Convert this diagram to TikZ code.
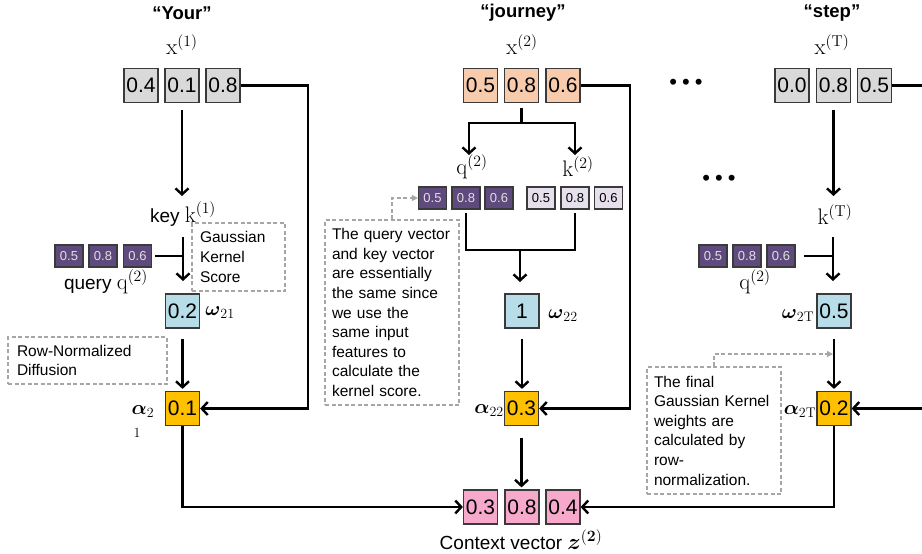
\RequirePackage{fix-cm}
\documentclass[tikz,border=0pt]{standalone}
\usepackage{amsmath}
\usepackage[no-math]{fontspec}
\setmainfont{Liberation Sans}
\usetikzlibrary{arrows.meta}
\definecolor{boxline}{HTML}{3A3A3A}
\definecolor{greyfill}{HTML}{D9D9D9}
\definecolor{orangefill}{HTML}{F8CBAD}
\definecolor{purplefill}{HTML}{5F4A7E}
\definecolor{lavfill}{HTML}{E6E0EC}
\definecolor{bluefill}{HTML}{B7DEE8}
\definecolor{goldfill}{HTML}{FFC000}
\definecolor{pinkfill}{HTML}{F6A9CB}
\definecolor{dashgrey}{HTML}{A6A6A6}
\newcommand{\bigmath}[1]{{\fontsize{22.5}{22.5}\selectfont$#1$}}
\tikzset{
  cell/.style={draw=boxline, line width=1.2pt, minimum width=34pt, minimum height=34pt, inner sep=0pt, font=\fontsize{21}{21}\selectfont},
  smallcell/.style={draw=boxline, line width=1.2pt, minimum width=28pt, minimum height=22pt, inner sep=0pt, font=\fontsize{13}{13}\selectfont},
  greycell/.style={cell, fill=greyfill},
  orangecell/.style={cell, fill=orangefill},
  bluecell/.style={cell, fill=bluefill},
  goldcell/.style={cell, fill=goldfill},
  pinkcell/.style={cell, fill=pinkfill},
  qcell/.style={smallcell, fill=purplefill, text=white!88!black},
  kcell/.style={smallcell, fill=lavfill},
  titletext/.style={font=\fontsize{18.5}{18.5}\selectfont\bfseries, inner sep=0pt},
  lab/.style={font=\fontsize{20}{20}\selectfont, inner sep=0pt},
  dotstext/.style={font=\fontsize{22}{22}\selectfont, inner sep=0pt},
  note/.style={draw=dashgrey, dash pattern=on 4pt off 2.5pt, line width=1.3pt, align=left, font=\fontsize{15.5}{19.6}\selectfont, inner ysep=0pt},
  conn/.style={line width=2.4pt, draw=black},
  tip/.style={-{Straight Barb[length=6pt,width=13pt]}},
  gconn/.style={draw=dashgrey, line width=1.3pt, dash pattern=on 4pt off 2.5pt, -{Triangle[length=6pt,width=6pt]}},
}
\begin{document}
\begin{tikzpicture}[x=1pt,y=-1pt]
\useasboundingbox (0,0) rectangle (922,554);
% titles and input labels
\node[titletext] (t1) at (182,13) {“Your”};
\node[titletext] (t2) at (523,13) {“journey”};
\node[titletext] (t3) at (832,13) {“step”};
\node[lab] (x1) at (182,45) {\bigmath{\mathrm{x}^{(1)}}};
\node[lab] (x2) at (522,45) {\bigmath{\mathrm{x}^{(2)}}};
\node[lab] (x3) at (832,45) {\bigmath{\mathrm{x}^{(\mathrm{T})}}};
% input vectors
\node[greycell] (a1) at (141,85.5) {0.4};
\node[greycell] (a2) at (182,85.5) {0.1};
\node[greycell] (a3) at (223,85.5) {0.8};
\node[orangecell] (b1) at (480.5,85.5) {0.5};
\node[orangecell] (b2) at (521.5,85.5) {0.8};
\node[orangecell] (b3) at (563,85.5) {0.6};
\node[greycell] (c1) at (792,85.5) {0.0};
\node[greycell] (c2) at (833.5,85.5) {0.8};
\node[greycell] (c3) at (874.5,85.5) {0.5};
% dots
\node[dotstext] (d1) at (686,84) {•\hspace{5pt}•\hspace{5pt}•};
\node[dotstext] (d2) at (719,180) {•\hspace{5pt}•\hspace{5pt}•};

% ---------- left column ----------
\node[lab, font=\fontsize{19}{19}\selectfont] (k1) at (183,214) {key \bigmath{\mathrm{k}^{(1)}}};
\coordinate (k1in) at (182,196);
\draw[conn,tip,shorten <=7pt] (a2.south) -- (k1in);
\node[qcell] (q1a) at (69,256) {0.5};
\node[qcell] (q1b) at (103,256) {0.8};
\node[qcell] (q1c) at (137.5,256) {0.6};
\node[lab, font=\fontsize{19}{19}\selectfont] (q1l) at (106,282) {query \bigmath{\mathrm{q}^{(2)}}};
\coordinate (v1a) at (183,237);
\coordinate (v1b) at (183,281);
\draw[conn,tip] (v1a) -- (v1b);
\draw[conn] ([xshift=3pt]q1c.east) -- (q1c.east -| v1a);
\node[note, text width=77pt, inner xsep=8pt, minimum height=68pt] (n1) at (238.5,257) {Gaussian\\Kernel\\Score};
\node[bluecell] (w1) at (182.5,311) {0.2};
\node[lab] (o1) at (220,313) {$\boldsymbol{\omega}_{21}$};
\node[note, text width=141pt, inner xsep=9pt, minimum height=47pt] (n0) at (87.5,360.5) {Row-Normalized\\Diffusion};
\node[goldcell] (al1) at (182.5,408.5) {0.1};
\node[lab] (g1) at (143,412) {$\boldsymbol{\alpha}_{2}$};
\node[lab, font=\fontsize{14}{14}\selectfont] (g1b) at (137,433) {$1$};
\draw[conn,tip,shorten <=10pt,shorten >=2pt] (w1.south) -- (w1.south |- al1.north);
\coordinate (r1) at (308,250);
\draw[conn,tip] (a3.east) -| (r1) |- (al1.east);

% ---------- middle column ----------
\coordinate (m1) at (521.5,123);
\coordinate (qa) at (469,155);
\coordinate (ka) at (575,155);
\draw[conn,shorten <=5pt] (b2.south) -- (m1);
\draw[conn,tip] (m1) -| (qa);
\draw[conn,tip] (m1) -| (ka);
\node[lab] (q2l) at (472,167) {\bigmath{\mathrm{q}^{(2)}}};
\node[lab] (k2l) at (578,167) {\bigmath{\mathrm{k}^{(2)}}};
\node[qcell] (q2a) at (432.5,198) {0.5};
\node[qcell] (q2b) at (466,198) {0.8};
\node[qcell] (q2c) at (499,198) {0.6};
\node[kcell] (k2a) at (541,198) {0.5};
\node[kcell] (k2b) at (575,198) {0.8};
\node[kcell] (k2c) at (608.5,198) {0.6};
\coordinate (m2) at (520,250);
\coordinate (m2b) at (520,282);
\draw[conn] ([yshift=-3pt]q2b.south) -- (q2b.south |- m2) -- (k2b.south |- m2) -- ([yshift=-3pt]k2b.south);
\draw[conn,tip] (m2) -- (m2b);
\node[bluecell] (w2) at (522,311) {1};
\node[lab] (o2) at (563,316) {$\boldsymbol{\omega}_{22}$};
\node[goldcell] (al2) at (521.5,408.5) {0.3};
\node[lab] (g2) at (489,411) {$\boldsymbol{\alpha}_{22}$};
\draw[conn,tip,shorten <=10pt,shorten >=2pt] (w2.south) -- (w2.south |- al2.north);
\coordinate (r2) at (630,250);
\draw[conn,tip] (b3.east) -| (r2) |- (al2.east);
\node[note, text width=120pt, inner xsep=7pt, minimum height=185pt] (n2) at (392,312.5) {The query vector\\and key vector\\are essentially\\the same since\\we use the\\same input\\features to\\calculate the\\kernel score.};
\draw[gconn] (n2.north) |- (q2a.west);

% ---------- right column ----------
\node[lab] (kT) at (835,215) {\bigmath{\mathrm{k}^{(\mathrm{T})}}};
\coordinate (kTin) at (833.5,196);
\draw[conn,tip,shorten <=7pt] (c2.south) -- (kTin);
\node[qcell] (qTa) at (713,256) {0.5};
\node[qcell] (qTb) at (747,256) {0.8};
\node[qcell] (qTc) at (781,256) {0.6};
\node[lab] (qTl) at (755,282) {\bigmath{\mathrm{q}^{(2)}}};
\coordinate (vTa) at (833,237);
\coordinate (vTb) at (833,281);
\draw[conn,tip] (vTa) -- (vTb);
\draw[conn] ([xshift=8pt]qTc.east) -- (qTc.east -| vTa);
\node[bluecell] (wT) at (834,311) {0.5};
\node[lab] (oT) at (798,316) {$\boldsymbol{\omega}_{2\mathrm{T}}$};
\node[goldcell] (alT) at (834,408.5) {0.2};
\node[lab] (gT) at (800,412) {$\boldsymbol{\alpha}_{2\mathrm{T}}$};
\draw[conn,tip,shorten <=10pt,shorten >=2pt] (wT.south) -- (wT.south |- alT.north);
\node[note, text width=120pt, inner xsep=7pt, minimum height=127pt] (n3) at (714,430.5) {The final\\Gaussian Kernel\\weights are\\calculated by\\row-\\normalization.};
\coordinate (gTin) at (833,354);
\draw[gconn] (n3.north) |- (gTin);
\coordinate (offa) at (935,85.5);
\coordinate (offb) at (935,408.5);
\draw[conn] (c3.east) -- (offa);
\draw[conn,tip] (offb) -- (alT.east);

% ---------- context vector ----------
\node[pinkcell] (z1) at (480.5,507) {0.3};
\node[pinkcell] (z2) at (522,507) {0.8};
\node[pinkcell] (z3) at (563,507) {0.4};
\node[lab, font=\fontsize{19}{19}\selectfont] (zl) at (521,540) {Context vector \bigmath{\boldsymbol{z}^{\mathbf{(2)}}}};
\draw[conn,tip] (al1.south) |- (z1.west);
\draw[conn,tip,shorten <=12pt,shorten >=2pt] (al2.south) -- (al2.south |- z2.north);
\draw[conn,tip] (alT.south) |- (z3.east);
\end{tikzpicture}
\end{document}
